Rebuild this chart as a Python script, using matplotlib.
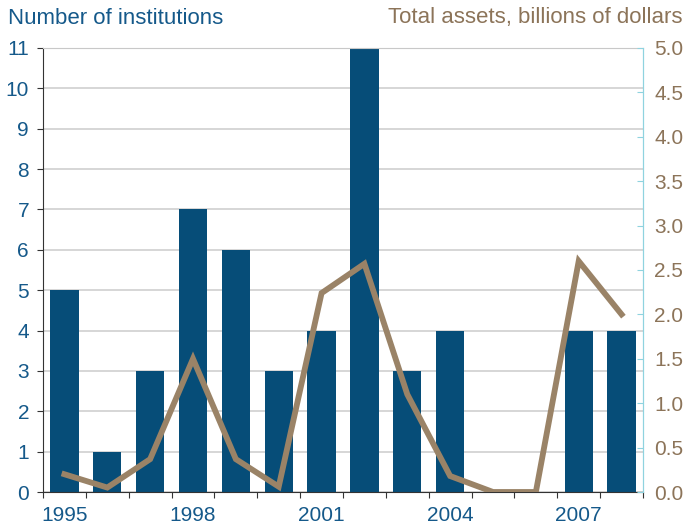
import matplotlib
matplotlib.use("Agg")
import matplotlib.pyplot as plt
import numpy as np

plt.rcParams['font.family'] = ['Liberation Sans', 'DejaVu Sans']

years = [1995, 1996, 1997, 1998, 1999, 2000, 2001, 2002, 2003, 2004, 2005, 2006, 2007, 2008]
institutions = [5, 1, 3, 7, 6, 3, 4, 11, 3, 4, 0, 0, 4, 4]
assets = [0.2, 0.05, 0.37, 1.5, 0.37, 0.06, 2.24, 2.57, 1.1, 0.18, 0.0, 0.0, 2.6, 2.0]
year_labels = ['1995', '1998', '2001', '2004', '2007']

blue = '#064d78'
brown = '#9a8367'
label_blue = '#15598a'
label_brown = '#8c7459'
cyan = '#8fd3df'

fig = plt.figure(figsize=(6.88, 5.27), dpi=100)
ax = fig.add_axes([43/688, 1-492/527, 600/688, 444/527])
x = np.arange(len(years))
ax.bar(x, institutions, width=0.66, color=blue, zorder=2)
ax.set_xlim(-0.5, len(years)-0.5)
ax.set_ylim(0, 11)
ax.set_yticks(range(0, 12))
ax.yaxis.grid(True, color='#d0d0d0', lw=1.2, zorder=0)
ax.set_axisbelow(True)
ax.tick_params(axis='y', colors='#333333', labelcolor=label_blue, labelsize=15, length=4, direction='out', pad=6)
ax.set_xticks(np.arange(-0.5, len(years)), minor=False)
ax.set_xticklabels([])
ax.tick_params(axis='x', which='major', length=4, color='#333333', direction='out')
lab_pos = [years.index(int(y)) for y in year_labels]
ax.set_xticks(lab_pos, minor=True)
ax.set_xticklabels(year_labels, minor=True)
ax.tick_params(axis='x', which='minor', length=0, labelcolor=label_blue, labelsize=15, pad=10)
ax.spines['left'].set_color('#333333')
ax.spines['bottom'].set_color('#333333')
ax.spines['top'].set_color('#c8c8c8')
ax.spines['right'].set_color(cyan)

ax2 = ax.twinx()
ax2.plot(x, assets, color=brown, lw=4.2, zorder=3, solid_joinstyle='miter')
ax2.set_ylim(0, 5)
ax2.set_yticks(np.arange(0, 5.01, 0.5))
ax2.set_yticklabels([f'{v:.1f}' for v in np.arange(0, 5.01, 0.5)])
ax2.tick_params(axis='y', colors=cyan, labelcolor=label_brown, labelsize=15, length=4, direction='in', pad=8)
for s in ['left', 'bottom', 'top']:
    ax2.spines[s].set_visible(False)
ax2.spines['right'].set_color(cyan)

fig.text(8/688, 1-18/527, 'Number of institutions', color=label_blue, fontsize=16, va='center', ha='left')
fig.text(683/688, 1-18/527, 'Total assets, billions of dollars', color=label_brown, fontsize=16, va='center', ha='right')

fig.savefig('out.png', dpi=100)
